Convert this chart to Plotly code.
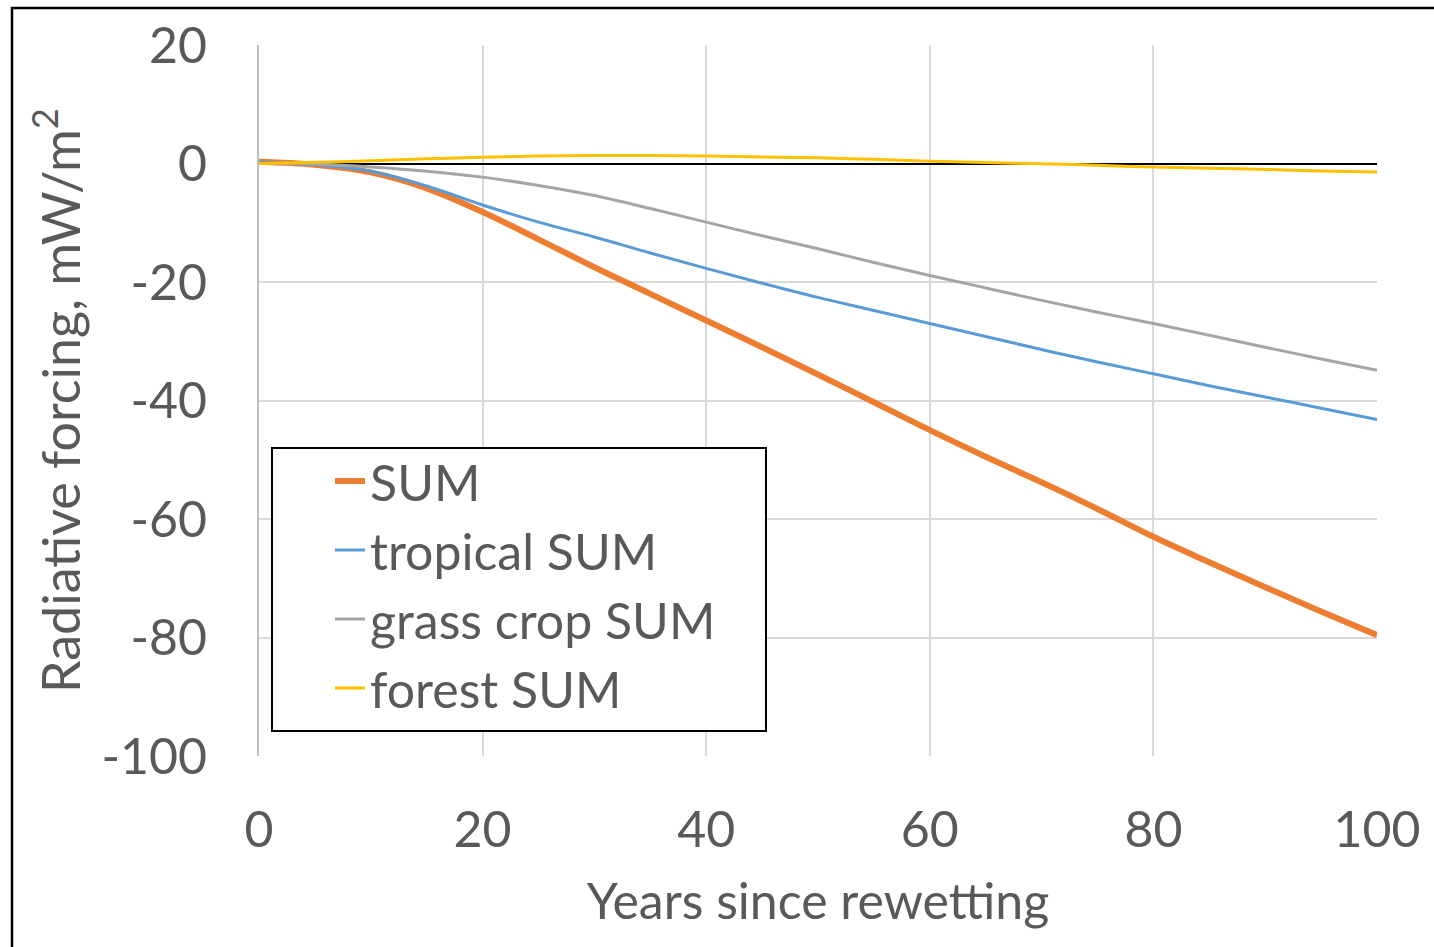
import plotly.graph_objects as go

years = [0, 5, 10, 15, 20, 25, 30, 35, 40, 45, 50, 55, 60, 65, 70, 75, 80, 85, 90, 95, 100]
sum_total = [0.3, -0.2, -1.5, -4.2, -8.2, -12.8, -17.5, -22.0, -26.5, -31.0, -35.6,
             -40.3, -45.0, -49.5, -53.8, -58.3, -63.0, -67.3, -71.5, -75.6, -79.6]
tropical_sum = [0.2, -0.2, -1.3, -3.8, -7.0, -9.9, -12.4, -15.1, -17.7, -20.2, -22.6,
                -24.8, -27.0, -29.2, -31.4, -33.5, -35.5, -37.5, -39.4, -41.3, -43.2]
grass_crop_sum = [0.0, -0.1, -0.6, -1.3, -2.3, -3.7, -5.4, -7.6, -9.9, -12.2, -14.4,
                  -16.7, -18.9, -21.0, -23.1, -25.1, -27.0, -29.0, -31.0, -33.0, -34.9]
forest_sum = [0.0, 0.2, 0.45, 0.8, 1.05, 1.25, 1.35, 1.35, 1.25, 1.1, 0.95,
              0.7, 0.4, 0.15, -0.05, -0.3, -0.6, -0.8, -1.0, -1.25, -1.45]

x_ticks = [0, 20, 40, 60, 80, 100]
y_ticks = [20, 0, -20, -40, -60, -80, -100]
y_tick_text = ["20", "0", "-20", "-40", "-60", "-80", "-100"]

FONT = "Lato"
TXT = "#595959"
FS = 50

fig = go.Figure()
series = [
    ("SUM", sum_total, "#ED7D31", 6),
    ("tropical SUM", tropical_sum, "#5B9BD5", 3),
    ("grass crop SUM", grass_crop_sum, "#A5A5A5", 3),
    ("forest SUM", forest_sum, "#FFC000", 3),
]
for i, (name, vals, col, w) in enumerate(series):
    fig.add_trace(go.Scatter(
        x=years, y=vals, name=name, mode="lines",
        line=dict(color=col, width=w, shape="spline", smoothing=1.0),
        legendgroup=f"g{i}",
    ))

fig.update_layout(
    width=1434, height=947,
    margin=dict(l=259, r=57, t=45, b=191),
    paper_bgcolor="white", plot_bgcolor="white",
    font=dict(family=FONT, color=TXT, size=FS),
    showlegend=True,
    legend=dict(
        x=(330 - 259) / 1118, xanchor="left",
        y=(756 - 442) / 711, yanchor="top",
        bgcolor="rgba(0,0,0,0)", borderwidth=0,
        font=dict(size=FS, color=TXT, family=FONT),
        traceorder="grouped", tracegroupgap=1,
    ),
    xaxis=dict(
        range=[0, 100], tickvals=x_ticks,
        showgrid=True, gridcolor="#D9D9D9", gridwidth=1.5,
        showline=False, zeroline=False,
        ticks="", ticklabelstandoff=40,
        tickfont=dict(size=FS, color=TXT, family=FONT),
        title=dict(text="Years since rewetting", standoff=26,
                   font=dict(size=FS, color=TXT, family=FONT)),
    ),
    yaxis=dict(
        range=[-100, 20], tickvals=y_ticks, ticktext=y_tick_text,
        showgrid=True, gridcolor="#D9D9D9", gridwidth=1.5,
        showline=True, linecolor="#BFBFBF", linewidth=2,
        zeroline=True, zerolinecolor="black", zerolinewidth=2,
        ticks="", ticklabelstandoff=40,
        tickfont=dict(size=FS, color=TXT, family=FONT),
        title=dict(text="Radiative forcing, mW/m<sup>2</sup>", standoff=4,
                   font=dict(size=52, color=TXT, family=FONT)),
    ),
    shapes=[
        dict(type="rect", xref="paper", yref="paper",
             x0=(272 - 259) / 1118, x1=(766 - 259) / 1118,
             y0=(756 - 731) / 711, y1=(756 - 448) / 711,
             line=dict(color="black", width=2), fillcolor="white", layer="above"),
        dict(type="rect", xref="paper", yref="paper",
             x0=(12 - 259) / 1118, x1=(1445 - 259) / 1118,
             y0=(756 - 960) / 711, y1=(756 - 8) / 711,
             line=dict(color="black", width=2.5), fillcolor="rgba(0,0,0,0)", layer="below"),
    ],
)

fig.write_html("out.html")
